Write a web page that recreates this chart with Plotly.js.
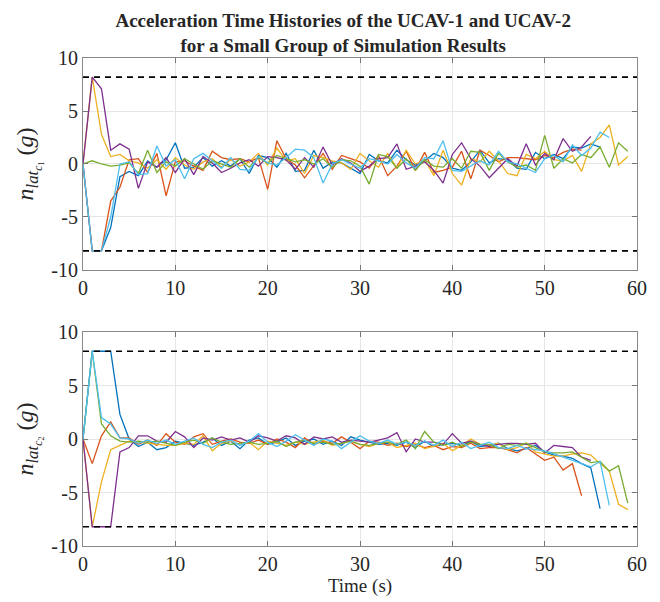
<!DOCTYPE html>
<html>
<head>
<meta charset="utf-8">
<script src="https://cdn.plot.ly/plotly-3.0.1.min.js"></script>
<style>html,body{margin:0;padding:0;background:#fff;}#chart{width:660px;height:602px;}</style>
</head>
<body>
<div id="chart"></div>
<script>
// ---- Data (time step 1 s) ----
const limitTimes = [0, 60];
const limitUpper = [8.2, 8.2];
const limitLower = [-8.2, -8.2];

// Top panel: UCAV-1 lateral acceleration
const top_blue   = [0,-8.2,-8.2,-6.0,-1.2,-0.7,-1.1,0.3,-0.3,0.4,2.0,-0.4,-0.3,0.6,-0.2,0.3,-0.2,0.5,-0.9,0.8,0.6,-0.3,1.0,-0.7,-0.6,1.3,-0.4,0.2,0.1,-0.4,-0.9,0.9,0.3,0.1,1.3,0.4,-0.1,0.3,1.0,0.6,-0.4,-0.6,0.2,1.3,0.1,0.5,0.4,-0.4,-0.5,1.1,0.5,0.9,0.5,1.6,1.5,1.9,1.6];
const top_red    = [0,-8.2,-8.2,-3.5,-2.2,0.4,0.5,-0.8,1.0,-3.0,0.2,0.3,-0.2,-0.6,1.2,0.6,0.4,0.5,0.2,0.6,-2.4,2.2,0.5,-0.1,-1.3,-0.2,1.0,-0.5,0.8,0.5,0.2,-0.4,0.8,-1.1,-0.2,1.2,-0.6,1.1,-0.8,-0.6,-0.3,1.2,-1.4,1.3,0.8,0.2,0.6,0.6,0.5,0.4,0.8,0.6,1.1,1.4,1.3];
const top_orange = [0,8.2,2.8,0.7,0.9,0.3,0.1,-0.4,0.4,-0.5,0.6,-0.1,-0.5,0.2,0.5,-0.3,0.4,-0.2,0.2,1.0,-0.1,1.5,0.3,0.5,-0.9,0.8,0.6,0.3,0.1,-0.5,1.0,0.3,-0.3,1.0,-0.4,1.3,0.0,0.4,-1.1,1.3,-0.9,-2.0,0.5,0.2,1.2,0.3,-0.9,-1.1,0.9,0.5,1.2,0.4,0.3,0.8,-0.7,1.9,2.5,3.7,-0.1,0.7];
const top_purple = [0,8.2,7.1,1.3,1.9,1.4,-2.3,0.2,-0.3,0.6,-0.8,0.5,-1.0,0.7,0.1,-0.8,-0.4,0.1,0.4,-0.2,0.7,0.6,0.4,-0.5,0.6,-0.3,1.6,-0.1,0.5,0.1,-0.7,-0.2,0.5,0.6,1.9,-0.5,-0.2,0.2,-0.6,-1.8,0.9,2.0,0.5,-0.2,-1.3,-0.4,0.5,-0.2,1.9,-0.1,1.0,0.4,2.4,1.2,1.6,2.6];
const top_green  = [0,0.3,0.0,-0.2,-0.1,0.1,-0.9,1.3,-0.8,0.2,-0.2,0.5,0.0,-0.5,0.3,0.0,-0.3,0.5,-0.3,0.6,0.1,0.8,0.5,0.2,0.4,0.0,0.5,-0.3,0.4,0.3,-0.2,-1.9,0.9,0.7,-0.4,0.5,-0.6,0.4,-0.2,-0.3,0.5,-0.4,1.2,1.1,-0.6,1.0,0.2,-0.3,-0.1,-0.6,2.7,-0.4,0.5,0.1,0.9,0.6,1.6,-0.3,2.0,1.2];
const top_cyan   = [0,-8.2,-8.2,-5.0,0.0,0.2,-1.0,-0.9,1.7,-0.2,0.4,-1.4,0.5,1.0,0.3,-0.4,0.6,-0.5,-0.6,0.7,0.1,-0.1,0.6,1.4,1.3,0.6,-1.8,0.0,0.4,0.0,-0.4,0.5,0.3,0.0,0.9,0.1,-0.4,0.6,0.5,2.2,-0.6,-0.7,-0.2,0.3,-0.1,1.2,0.2,0.0,-0.4,-0.8,0.5,0.8,0.2,1.8,0.8,1.5,3.0,2.5];

// Bottom panel: UCAV-2 lateral acceleration
const bot_blue   = [0,8.2,8.2,8.2,2.3,0.0,-0.7,-0.3,-1.0,-0.8,-0.2,-0.4,-0.6,-0.3,0.1,-0.6,-0.2,-0.9,-0.1,0.1,-0.5,-0.3,0.1,-0.6,-0.2,0.0,-0.5,-0.2,-0.6,0.2,-0.1,-0.3,-0.5,-0.4,-0.6,-0.3,-0.8,-0.2,-0.7,-0.5,-0.4,-0.6,-0.2,-0.7,-0.6,-0.4,-0.9,-1.1,-0.9,-0.6,-1.2,-1.5,-1.6,-1.8,-2.3,-2.7,-6.5];
const bot_red    = [0,-2.3,0.3,1.6,0.1,0.1,-0.5,-0.1,-0.6,0.5,-0.3,-0.5,0.2,0.5,-0.5,-0.2,0.0,-0.3,-0.4,-0.1,-0.5,0.0,-0.3,-0.8,0.1,-0.5,-0.2,-0.4,0.2,-0.3,-0.9,-0.2,-0.3,-0.6,-0.4,-0.7,-0.5,-0.8,-0.6,-1.0,-0.7,-0.8,-0.4,-0.9,-0.8,-0.8,-1.0,-1.3,-0.8,-1.4,-2.0,-1.7,-2.9,-2.3,-5.3];
const bot_orange = [0,-8.2,-4.0,-1.0,-0.6,-0.2,-0.3,-0.4,-0.5,-0.6,-0.6,-0.4,-0.5,0.3,-1.1,-0.4,-0.2,-0.5,-0.3,-1.0,-0.2,-0.4,-0.6,-0.3,-0.5,-0.3,-0.1,-0.6,-0.4,-0.2,-0.5,-0.7,-0.4,-0.3,-0.8,-0.6,-0.4,-0.9,-0.7,-0.4,-1.1,-0.6,0.0,-0.5,-0.6,-0.4,-1.0,-0.8,-0.4,-1.2,-1.4,-1.6,-1.6,-1.4,-1.3,-1.5,-2.3,-3.0,-6.1,-6.6];
const bot_purple = [0,-8.2,-8.2,-8.2,-1.2,-0.8,0.3,0.3,-0.2,-0.3,0.7,0.2,-0.8,0.1,-0.1,0.2,-0.1,0.1,-0.3,0.3,0.1,-0.2,0.3,0.1,-0.5,0.2,0.0,0.2,-0.3,-0.1,-0.2,-0.3,-0.1,0.1,0.6,-1.2,0.0,-0.3,-0.3,-0.5,0.5,-0.4,-0.2,-0.5,-0.7,-0.5,-0.4,-0.4,-0.5,-0.4,-1.3,-0.6,-0.7,-0.8,-1.7,-2.0];
const bot_green  = [0,8.2,1.4,0.3,-0.2,-0.3,-0.2,-0.3,-0.2,-0.4,-0.6,-0.3,-0.1,-0.4,0.1,-0.3,-0.5,-0.4,-0.3,-0.5,-0.4,-0.2,-0.7,-0.3,-0.1,-0.4,-0.3,-0.5,-0.4,-0.2,-0.5,-0.6,-0.4,-0.3,-0.5,-0.1,-0.9,0.7,-0.3,-0.6,-0.3,-0.7,-0.3,-0.5,-0.5,-0.9,-0.5,-0.6,-0.4,-0.8,-1.2,-1.3,-1.3,-1.2,-1.7,-2.2,-2.1,-3.0,-2.5,-6.0];
const bot_cyan   = [0,8.2,2.0,1.4,0.1,0.0,-0.4,-0.1,-0.4,-0.1,-0.5,-0.2,0.1,-0.5,-0.8,-0.3,-0.1,-0.6,-0.2,0.5,-0.3,-0.7,-0.2,0.4,-0.1,-0.6,0.0,-0.2,-0.9,-0.3,0.3,-0.2,-0.4,-0.1,-0.5,-0.3,-0.6,-0.2,-0.6,-0.1,-0.7,-0.3,-0.9,-0.6,-0.3,-0.8,-0.9,-0.6,-0.9,-1.0,-1.1,-1.4,-1.7,-2.0,-2.3,-2.6,-2.1,-6.2];

const xTickVals = [0,10,20,30,40,50,60];
const xTickText = ['0','10','20','30','40','50','60'];
const yTickVals = [-10,-5,0,5,10];
const yTickText = ['-10','-5','0','5','10'];

// ---- Styling ----
const colors = {blue:'#0072BD', red:'#D95319', orange:'#EDB120', purple:'#7E2F8E', green:'#77AC30', cyan:'#4DBEEE'};
const serif = 'Liberation Serif, Times New Roman, serif';

function timesFor(arr){ return arr.map((_, i) => i); }
function series(y, color, xa, ya){
  return {x: timesFor(y), y: y, type:'scatter', mode:'lines', xaxis:xa, yaxis:ya,
          line:{color:color, width:1.3}, showlegend:false, hoverinfo:'skip'};
}
function limit(y, xa, ya){
  return {x: limitTimes, y: y, type:'scatter', mode:'lines', xaxis:xa, yaxis:ya,
          line:{color:'#000', width:1.6, dash:'6px,5px'}, showlegend:false, hoverinfo:'skip'};
}

const traces = [
  series(top_blue, colors.blue, 'x', 'y'),
  series(top_red, colors.red, 'x', 'y'),
  series(top_orange, colors.orange, 'x', 'y'),
  series(top_purple, colors.purple, 'x', 'y'),
  series(top_green, colors.green, 'x', 'y'),
  series(top_cyan, colors.cyan, 'x', 'y'),
  limit(limitUpper, 'x', 'y'),
  limit(limitLower, 'x', 'y'),
  series(bot_blue, colors.blue, 'x2', 'y2'),
  series(bot_red, colors.red, 'x2', 'y2'),
  series(bot_orange, colors.orange, 'x2', 'y2'),
  series(bot_purple, colors.purple, 'x2', 'y2'),
  series(bot_green, colors.green, 'x2', 'y2'),
  series(bot_cyan, colors.cyan, 'x2', 'y2'),
  limit(limitUpper, 'x2', 'y2'),
  limit(limitLower, 'x2', 'y2')
];

const tickFont = {family: serif, size: 20, color:'#262626'};
function xAxis(anchor, withTitle){
  const a = {
    anchor: anchor, range:[0,60], tickvals:xTickVals, ticktext:xTickText,
    ticks:'inside', ticklen:5, tickcolor:'#777', showline:true, linecolor:'#888', linewidth:1,
    mirror:'ticks', showgrid:true, gridcolor:'#e6e6e6', zeroline:false, tickfont:tickFont,
    fixedrange:true
  };
  if (withTitle) a.title = {text:'Time (s)', font:{family:serif, size:19, color:'#262626'}, standoff:3};
  return a;
}
function ylabel(k){
  return '<i>n</i><sub><i>lat</i><sub><i>c</i><sub>' + k + '</sub></sub></sub> (<i>g</i>)';
}
function yAxis(anchor, domain, label){
  return {
    anchor: anchor, domain: domain, range:[-10,10], tickvals:yTickVals, ticktext:yTickText,
    ticks:'inside', ticklen:5, tickcolor:'#777', showline:true, linecolor:'#888', linewidth:1,
    mirror:'ticks', showgrid:true, gridcolor:'#e6e6e6', zeroline:false, tickfont:tickFont,
    title:{text:label, font:{family:serif, size:24, color:'#262626'}, standoff:10},
    fixedrange:true
  };
}

const layout = {
  width:660, height:602,
  margin:{l:83, r:23, t:58, b:56},
  paper_bgcolor:'#fff', plot_bgcolor:'#fff',
  title:{text:'<b>Acceleration Time Histories of the UCAV-1 and UCAV-2<br>for a Small Group of Simulation Results</b>',
         font:{family:serif, size:19, color:'#262626'}, x:0.52, xanchor:'center', y:0.955, yanchor:'top'},
  xaxis: xAxis('y', false),
  yaxis: yAxis('x', [0.5656, 1], ylabel('1')),
  xaxis2: xAxis('y2', true),
  yaxis2: yAxis('x2', [0, 0.4385], ylabel('2')),
  showlegend:false
};

Plotly.newPlot('chart', traces, layout, {staticPlot:true, displayModeBar:false});
</script>
</body>
</html>
